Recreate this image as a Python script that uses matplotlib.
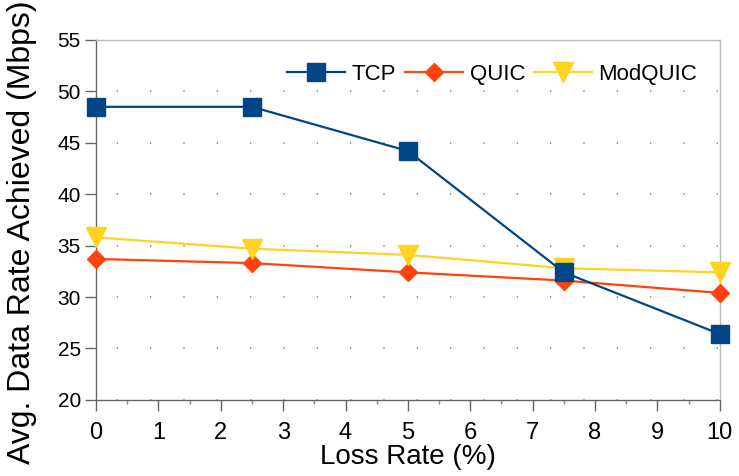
import matplotlib
matplotlib.use("Agg")
import matplotlib.pyplot as plt
from matplotlib.ticker import MultipleLocator

plt.rcParams['font.family'] = ['Liberation Sans', 'DejaVu Sans']
plt.rcParams['lines.scale_dashes'] = False

# loss rate sweep
loss_rate = [0, 2.5, 5, 7.5, 10]

# average achieved data rate (Mbps)
tcp = [48.5, 48.5, 44.2, 32.4, 26.4]
quic = [33.7, 33.3, 32.4, 31.6, 30.4]
modquic = [35.8, 34.7, 34.1, 32.8, 32.4]

x_ticks = list(range(0, 11))
y_ticks = list(range(20, 56, 5))

fig = plt.figure(figsize=(7.39, 4.76), dpi=100)
ax = fig.add_axes([0.130, 0.160, 0.844, 0.756])

ax.plot(loss_rate, tcp, color="#004586", lw=1.6, marker="s", ms=13,
        label="TCP", clip_on=False, zorder=4)
ax.plot(loss_rate, quic, color="#ff420e", lw=1.6, marker="D", ms=9.5,
        label="QUIC", clip_on=False, zorder=3)
ax.plot(loss_rate, modquic, color="#ffd320", lw=1.6, marker="v", ms=14,
        label="ModQUIC", clip_on=False, zorder=3)

ax.set_xlim(0, 10)
ax.set_ylim(20, 55)
ax.set_xticks(x_ticks)
ax.set_yticks(y_ticks)
ax.xaxis.set_minor_locator(MultipleLocator(0.5))

# sparse dotted horizontal grid
ax.yaxis.grid(True, color="#808080", lw=1.2, linestyle=(9.1, (0.9, 23.1)))
ax.set_axisbelow(True)

for side in ("left", "bottom"):
    ax.spines[side].set_color("#666666")
    ax.spines[side].set_linewidth(1.0)
for side in ("top", "right"):
    ax.spines[side].set_color("#bbbbbb")
    ax.spines[side].set_linewidth(1.0)

ax.tick_params(axis="both", which="major", direction="out", length=8,
               width=1.0, color="#666666")
ax.tick_params(axis="y", labelsize=15, pad=3)
ax.tick_params(axis="x", labelsize=17, pad=8)
ax.tick_params(axis="x", which="minor", direction="out", length=3,
               width=1.0, color="#888888")

ax.set_xlabel("Loss Rate (%)", fontsize=20, labelpad=0)
ax.set_ylabel("Avg. Data Rate Achieved (Mbps)", fontsize=23)
ax.yaxis.set_label_coords(-0.095, 0.465)

ax.legend(loc="upper right", bbox_to_anchor=(0.985, 0.97), ncol=3, frameon=False,
          fontsize=16, handlelength=2.6, handletextpad=0.3, columnspacing=0.4,
          borderaxespad=0.2)

fig.savefig("out.png", dpi=100)
